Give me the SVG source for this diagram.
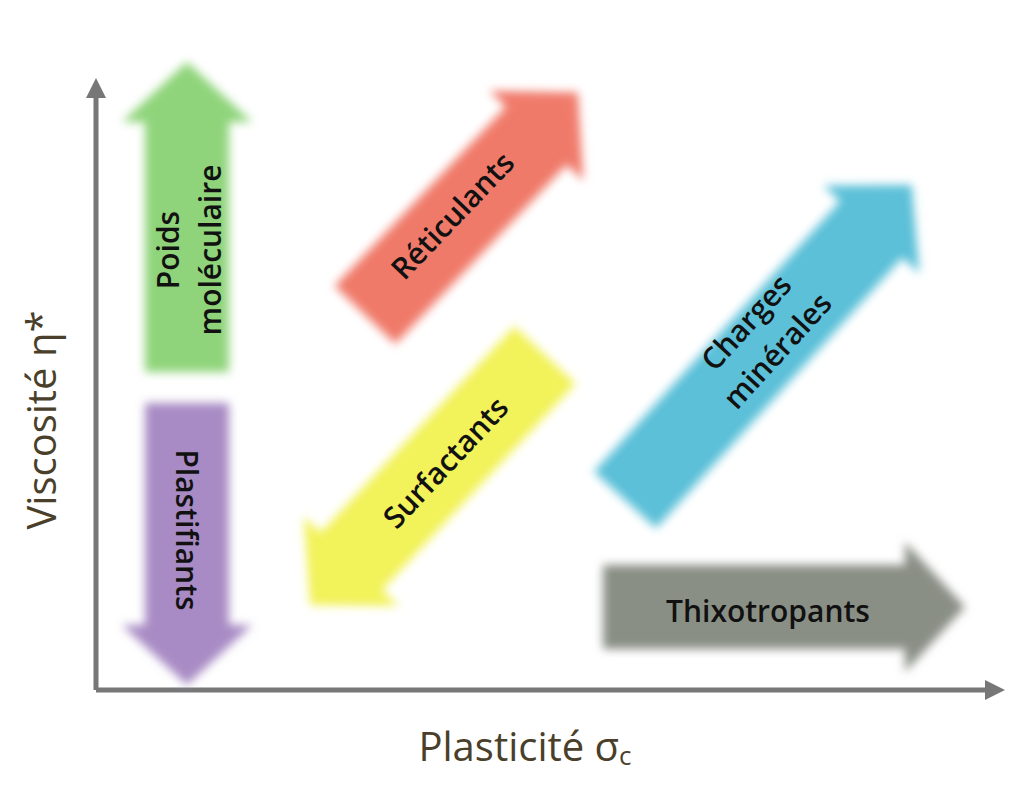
<svg xmlns="http://www.w3.org/2000/svg" width="1024" height="804" viewBox="0 0 1024 804">
<style>
.lbl{font-family:"Open Sans","Liberation Sans",sans-serif;font-size:30px;font-weight:600;fill:#111;text-anchor:middle;dominant-baseline:central}
.ax{font-family:"Open Sans","Liberation Sans",sans-serif;font-size:40px;fill:#4a3f2a;text-anchor:middle;dominant-baseline:central}
.axis{stroke:#777;stroke-width:5;fill:none}
</style>
<defs>
<filter id="blur" x="-20%" y="-20%" width="140%" height="140%"><feGaussianBlur stdDeviation="5"/></filter>
<marker id="ah" viewBox="0 0 10 10" refX="5" refY="5" markerWidth="4" markerHeight="4" orient="auto"><path d="M0,0L10,5L0,10z" fill="#777"/></marker>
</defs>
<rect width="1024" height="804" fill="#fff"/>
<g id="connectors">
<path class="axis" d="M96,690V88" marker-end="url(#ah)"/>
<path class="axis" d="M96,690H995" marker-end="url(#ah)"/>
</g>
<g id="poids"><path filter="url(#blur)" fill="#8fd47a" transform="translate(187,372) rotate(-90)" d="M0,-42H250V-65L310,0L250,65V42H0Z"/>
<text class="lbl" transform="translate(187,250) rotate(-90)"><tspan x="0" y="-20">Poids</tspan><tspan x="0" y="22">moléculaire</tspan></text></g>
<g id="plast"><path filter="url(#blur)" fill="#a88bc4" transform="translate(187,403) rotate(90)" d="M0,-42H222V-65L282,0L222,65V42H0Z"/>
<text class="lbl" transform="translate(187,530) rotate(90)">Plastifiants</text></g>
<g id="retic"><path filter="url(#blur)" fill="#f07a6a" transform="translate(365,315) rotate(-46.3)" d="M0,-42H248V-65L308,0L248,65V42H0Z"/>
<text class="lbl" transform="translate(452,215) rotate(-46.3)">Réticulants</text></g>
<g id="surf"><path filter="url(#blur)" fill="#f2f25a" transform="translate(545,355) rotate(133.2)" d="M0,-42H283V-65L343,0L283,65V42H0Z"/>
<text class="lbl" transform="translate(445,462) rotate(-46.8)">Surfactants</text></g>
<g id="charges"><path filter="url(#blur)" fill="#5bc0d8" transform="translate(625,500) rotate(-47.7)" d="M0,-42H366V-65L426,0L366,65V42H0Z"/>
<text class="lbl" transform="translate(760,335) rotate(-47.7)"><tspan x="0" y="-20">Charges</tspan><tspan x="0" y="22">minérales</tspan></text></g>
<g id="thixo"><path filter="url(#blur)" fill="#8a8f86" transform="translate(603,607)" d="M0,-42H302V-65L362,0L302,65V42H0Z"/>
<text class="lbl" x="768" y="610">Thixotropants</text></g>
<text class="ax" transform="translate(40,420) rotate(-90)">Viscosité η*</text>
<text class="ax" x="525" y="745">Plasticité σ<tspan font-size="26" dy="10">c</tspan></text>
</svg>
